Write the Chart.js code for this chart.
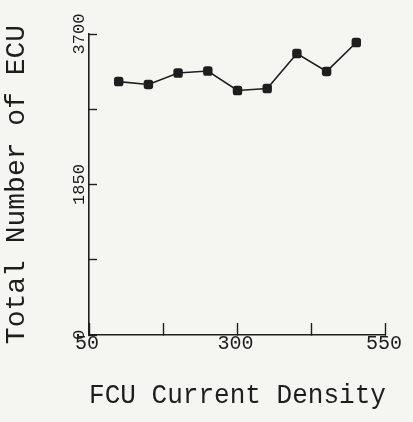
<!DOCTYPE html>
<html>
<head>
<meta charset="utf-8">
<script src="https://cdn.jsdelivr.net/npm/chart.js@4.4.1/dist/chart.umd.min.js"></script>
<style>
  html, body { margin: 0; padding: 0; background: #f5f5f2; }
  #wrap { width: 413px; height: 422px; }
</style>
</head>
<body>
<div id="wrap"><canvas id="ecuChart" width="413" height="422"></canvas></div>
<script>
// data
const currentDensity = [100, 150, 200, 250, 300, 350, 400, 450, 500];
const ecuTotals = [3115, 3080, 3220, 3245, 3005, 3030, 3460, 3240, 3595];

const xTickValues = [50, 175, 300, 425, 550];
const xTickLabels = ['50', '', '300', '', '550'];
const yTickValues = [0, 925, 1850, 2775, 3700];
const yTickLabels = ['0', '', '1850', '', '3700'];

const ink = '#1e1e1e';
const plotFont = "'Liberation Mono', 'DejaVu Sans Mono', monospace";

const points = currentDensity.map((x, i) => ({ x: x, y: ecuTotals[i] }));

const ctx = document.getElementById('ecuChart').getContext('2d');

new Chart(ctx, {
    type: 'line',
    data: {
        datasets: [{
            data: points,
            borderColor: ink,
            borderWidth: 1.6,
            backgroundColor: ink,
            pointStyle: 'rectRounded',
            pointRadius: 5.5,
            pointBorderWidth: 0,
            tension: 0,
            fill: false
        }]
    },
    options: {
        responsive: false,
        animation: false,
        devicePixelRatio: 1,
        layout: { padding: { top: 34, right: 25, left: 0, bottom: 0 } },
        plugins: {
            legend: { display: false },
            tooltip: { enabled: false }
        },
        scales: {
            x: {
                type: 'linear',
                min: 50,
                max: 550,
                afterBuildTicks: (scale) => {
                    scale.ticks = xTickValues.map(v => ({ value: v }));
                },
                afterFit: (scale) => { scale.height = 87; },
                grid: {
                    drawOnChartArea: false,
                    drawTicks: true,
                    tickLength: -12,
                    tickColor: ink,
                    tickWidth: 1.4
                },
                border: { display: true, color: ink, width: 1.6 },
                ticks: {
                    autoSkip: false,
                    maxRotation: 0,
                    padding: 9,
                    labelOffset: -2,
                    color: ink,
                    font: { family: plotFont, size: 20 },
                    callback: (value) => xTickLabels[xTickValues.indexOf(value)]
                },
                title: {
                    display: true,
                    text: 'FCU Current Density',
                    color: ink,
                    font: { family: plotFont, size: 28 },
                    padding: { top: 0, bottom: 10 }
                }
            },
            y: {
                type: 'linear',
                min: 0,
                max: 3700,
                afterBuildTicks: (scale) => {
                    scale.ticks = yTickValues.map(v => ({ value: v }));
                },
                afterFit: (scale) => { scale.width = 89; },
                grid: {
                    drawOnChartArea: false,
                    drawTicks: true,
                    tickLength: -8,
                    tickColor: ink,
                    tickWidth: 1.4
                },
                border: { display: true, color: ink, width: 1.6 },
                ticks: {
                    autoSkip: false,
                    minRotation: 90,
                    maxRotation: 90,
                    crossAlign: 'center',
                    padding: -3,
                    color: ink,
                    font: { family: plotFont, size: 17 },
                    callback: (value) => yTickLabels[yTickValues.indexOf(value)]
                },
                title: {
                    display: true,
                    text: 'Total Number of ECU',
                    color: ink,
                    font: { family: plotFont, size: 28 },
                    padding: { top: 0, bottom: 0 }
                }
            }
        }
    }
});
</script>
</body>
</html>
